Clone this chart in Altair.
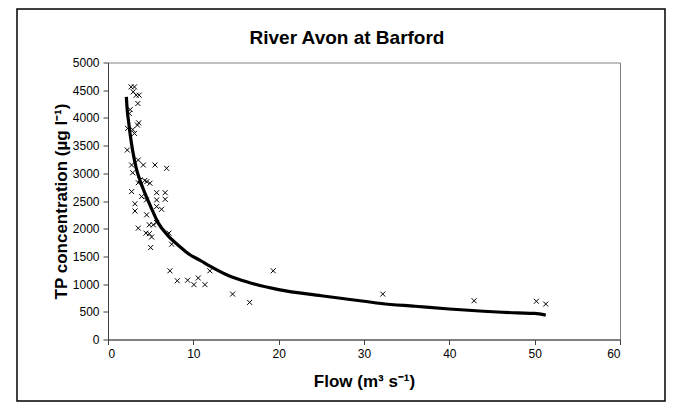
import altair as alt
import pandas as pd

# Observed samples (flow m3/s, TP ug/l)
flow_obs = [2.7, 3.1, 2.95, 3.3, 3.65, 3.5, 2.6, 2.5, 3.6, 3.45, 2.3, 2.9, 3.1, 2.26, 3.55,
            2.77, 2.89, 4.14, 5.5, 6.87, 3.75, 3.55, 4.3, 4.55, 4.92, 2.77, 3.94, 5.7, 6.7,
            3.16, 3.16, 4.5, 5.7, 6.7, 5.7, 6.28, 4.53, 3.55, 4.84, 5.31, 5.7, 4.45, 4.84,
            5.11, 5.0, 7.14, 7.46, 7.26, 8.12, 9.33, 10.07, 10.58, 11.36, 11.94, 14.6, 16.6,
            19.36, 32.2, 42.9, 50.2, 51.3]
tp_obs = [4560, 4560, 4470, 4410, 4410, 4260, 4150, 4080, 3910, 3870, 3810, 3790, 3720, 3420, 3240,
          3150, 3010, 3150, 3150, 3090, 2880, 2830, 2870, 2850, 2820, 2670, 2580, 2650, 2650,
          2450, 2320, 2520, 2520, 2530, 2400, 2350, 2250, 2010, 2070, 2070, 2110, 1920, 1910,
          1850, 1660, 1920, 1720, 1240, 1060, 1070, 990, 1110, 990, 1240, 820, 670,
          1240, 820, 700, 690, 640]

# Fitted curve
fit_flow = [2.15, 2.25, 2.4, 2.6, 2.9, 3.3, 3.8, 4.3, 5.0, 5.9, 7.0, 8.4, 9.6, 10.8, 11.9,
            13.9, 16.5, 20, 25, 30, 32, 36, 40, 44, 48, 50, 51.3]
fit_tp = [4380, 4150, 3950, 3700, 3400, 3100, 2850, 2650, 2400, 2100, 1880, 1680, 1530, 1430, 1330,
          1170, 1030, 900, 790, 690, 650, 600, 550, 510, 480, 470, 440]

x_ticks = [0, 10, 20, 30, 40, 50, 60]
y_ticks = [0, 500, 1000, 1500, 2000, 2500, 3000, 3500, 4000, 4500, 5000]

chart_title = ["River Avon at Barford"]

obs = pd.DataFrame({"flow": flow_obs, "tp": tp_obs})
fit = pd.DataFrame({"flow": fit_flow, "tp": fit_tp})

FONT = "Liberation Sans"
AX = "#404040"

xs = alt.Scale(domain=[0, 60], nice=False)
ys = alt.Scale(domain=[0, 5000], nice=False)

xax = alt.Axis(values=x_ticks, title="Flow (m³ s⁻¹)", grid=False, format="d",
               labelFont=FONT, labelFontSize=12, labelColor="black", labelPadding=4,
               titleFont=FONT, titleFontSize=17, titleFontWeight="bold", titleColor="black",
               titlePadding=14, domainColor=AX, tickColor=AX, tickSize=5)
yax = alt.Axis(values=y_ticks, title="TP concentration (µg l⁻¹)", grid=False, format="d",
               labelFont=FONT, labelFontSize=12, labelColor="black", labelPadding=4,
               titleFont=FONT, titleFontSize=17, titleFontWeight="bold", titleColor="black",
               titlePadding=2, domainColor=AX, tickColor=AX, tickSize=5)

border = alt.Chart(pd.DataFrame({"k": [0]})).mark_rect(
    filled=False, color="black", strokeWidth=1.5
).encode(x=alt.value(-91), x2=alt.value(557), y=alt.value(-53.5), y2=alt.value(338.5))

title_mark = alt.Chart(pd.DataFrame({"t": chart_title})).mark_text(
    font=FONT, fontSize=19, fontWeight="bold", color="black", align="center", baseline="middle"
).encode(text="t:N", x=alt.value(239), y=alt.value(-25))

line = alt.Chart(fit).mark_line(color="black", strokeWidth=3.2, interpolate="monotone").encode(
    x=alt.X("flow:Q", scale=xs, axis=xax),
    y=alt.Y("tp:Q", scale=ys, axis=yax),
)

pts = alt.Chart(obs).mark_point(
    shape="M-1,-1L1,1M-1,1L1,-1", filled=False, color="black", strokeWidth=1, size=25, opacity=1
).encode(
    x=alt.X("flow:Q", scale=xs, axis=xax),
    y=alt.Y("tp:Q", scale=ys, axis=yax),
)

chart = alt.layer(border, title_mark, pts, line).properties(
    width=512, height=277,
    autosize="none",
    padding={"left": 100, "top": 54.5, "right": 49, "bottom": 62},
    background="white",
).configure_view(stroke="#808080", strokeWidth=1)

chart.save("out.html", embed_options={"renderer": "svg", "actions": False})
